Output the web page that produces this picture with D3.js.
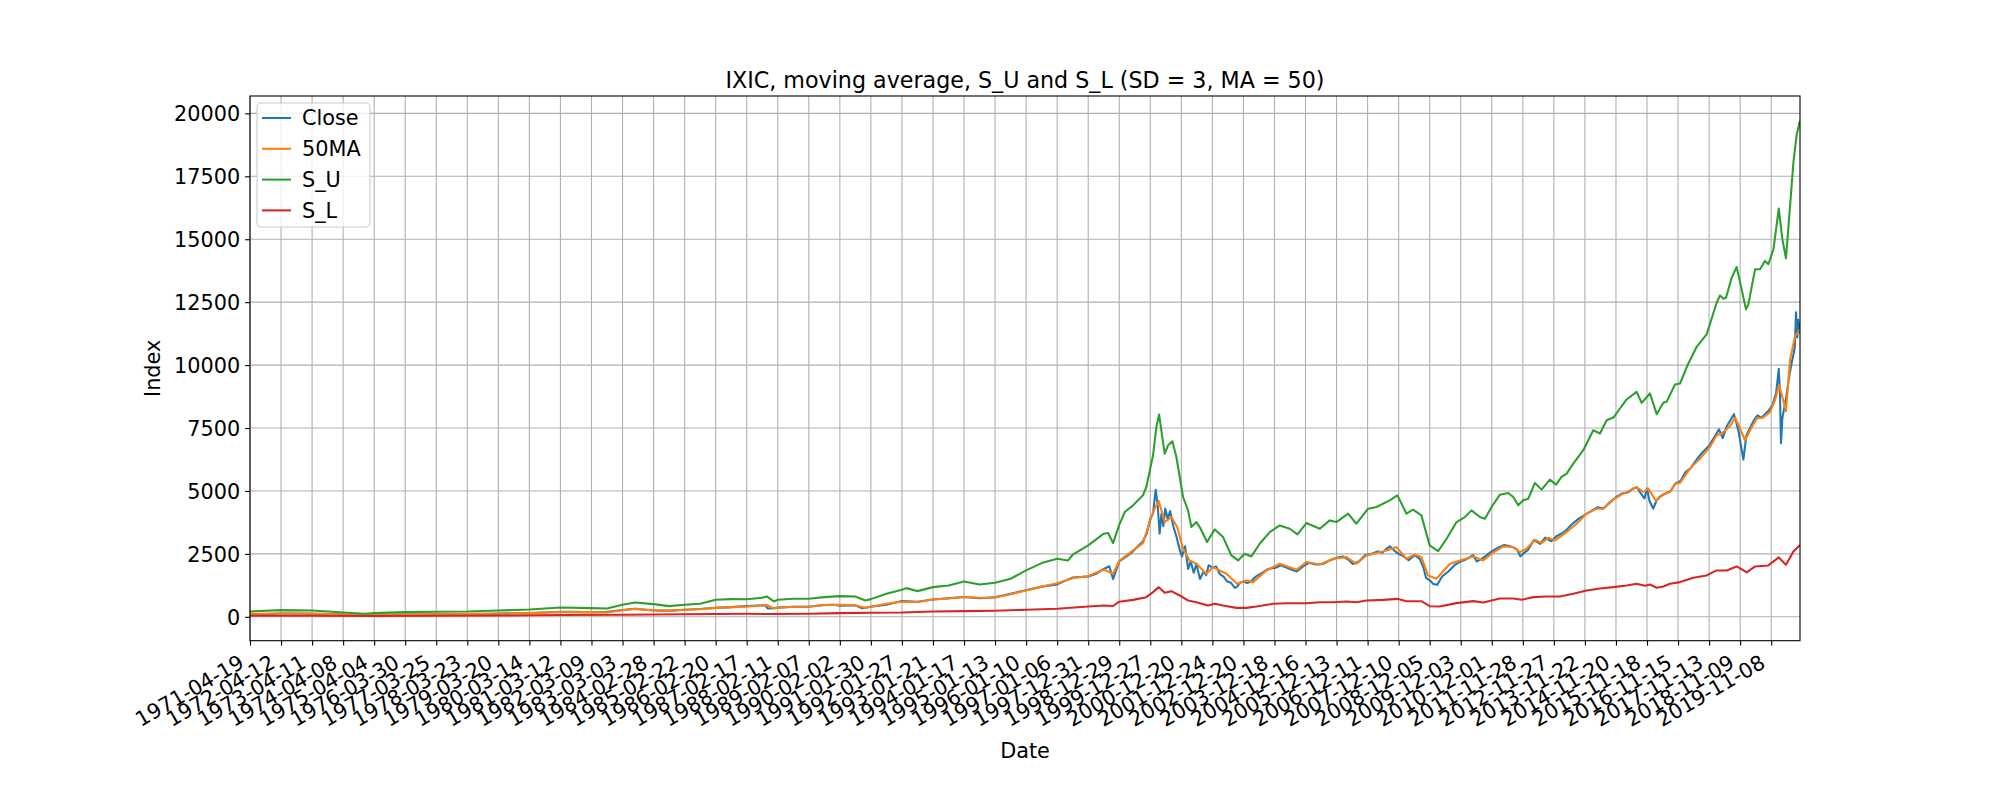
<!DOCTYPE html>
<html>
<head>
<meta charset="utf-8">
<script src="https://cdn.jsdelivr.net/npm/d3@7"></script>
<style>
body { margin: 0; background: #fff; }
svg { font-family: "DejaVu Sans", sans-serif; }
</style>
</head>
<body>
<svg width="2000" height="800"></svg>
<script>
// x axis is the row number of the data, one tick label every 250 rows
const tickDates = ["1971-04-19","1972-04-12","1973-04-11","1974-04-08","1975-04-04","1976-03-30",
  "1977-03-25","1978-03-23","1979-03-20","1980-03-14","1981-03-12","1982-03-09","1983-03-03",
  "1984-02-28","1985-02-22","1986-02-20","1987-02-17","1988-02-11","1989-02-07","1990-02-02",
  "1991-01-30","1992-01-27","1993-01-21","1994-01-17","1995-01-13","1996-01-10","1997-01-06",
  "1997-12-31","1998-12-29","1999-12-27","2000-12-20","2001-12-24","2002-12-20","2003-12-18",
  "2004-12-16","2005-12-13","2006-12-11","2007-12-10","2008-12-05","2009-12-03","2010-12-01",
  "2011-11-28","2012-11-27","2013-11-22","2014-11-20","2015-11-18","2016-11-15","2017-11-13",
  "2018-11-09","2019-11-08"];
const rowStep = 250;
const lastRow = 12482;
const yTicks = [0, 2500, 5000, 7500, 10000, 12500, 15000, 17500, 20000];

// [row, value]
const closePts = [[0,104],[125,110],[250,130],[375,133],[500,122],[625,108],[750,92],[875,65],[1000,82],
  [1125,76],[1250,90],[1375,92],[1500,97],[1625,100],[1750,108],[1875,118],[2000,127],[2125,140],
  [2250,150],[2375,175],[2500,200],[2625,195],[2750,180],[2875,200],[3000,270],[3100,320],[3200,270],
  [3300,245],[3400,245],[3500,282],[3625,310],[3750,355],[3875,385],[4000,425],[4100,450],[4150,455],
  [4170,330],[4220,340],[4250,365],[4375,400],[4500,400],[4625,470],[4700,480],[4750,440],[4875,455],
  [4930,340],[5000,400],[5125,480],[5250,625],[5375,600],[5500,690],[5625,740],[5750,790],[5875,740],
  [6000,775],[6125,920],[6250,1060],[6375,1200],[6500,1290],[6625,1560],[6750,1600],[6810,1700],
  [6875,1900],[6920,2010],[6950,1500],[7000,2200],[7060,2400],[7111,2600],[7150,2800],[7191,3000],
  [7220,3300],[7250,3900],[7272,4100],[7285,4700],[7294,5048],[7310,4400],[7325,3300],[7340,4100],
  [7355,3600],[7370,4300],[7390,3900],[7410,4200],[7435,3600],[7460,3200],[7485,2700],[7505,2400],
  [7530,2800],[7555,1900],[7575,2200],[7600,1750],[7621,2100],[7650,1500],[7680,1800],[7700,1650],
  [7720,2050],[7750,1950],[7780,2000],[7810,1700],[7840,1600],[7870,1400],[7900,1350],[7930,1150],
  [7950,1200],[7970,1350],[8000,1400],[8030,1340],[8060,1400],[8100,1600],[8150,1750],[8200,1900],
  [8260,1950],[8300,2050],[8350,1950],[8400,1850],[8430,1800],[8480,2000],[8530,2150],[8580,2080],
  [8640,2100],[8700,2250],[8750,2350],[8800,2400],[8850,2250],[8880,2100],[8930,2200],[8980,2450],
  [9030,2500],[9080,2600],[9120,2550],[9150,2700],[9180,2800],[9210,2650],[9250,2500],[9290,2400],
  [9330,2250],[9380,2450],[9420,2300],[9450,1950],[9470,1550],[9500,1450],[9530,1300],[9560,1270],
  [9600,1600],[9650,1800],[9700,2050],[9750,2200],[9800,2300],[9850,2450],[9880,2200],[9920,2300],
  [9960,2450],[10000,2600],[10050,2750],[10100,2850],[10150,2800],[10200,2700],[10230,2400],
  [10250,2500],[10290,2650],[10340,3050],[10390,2900],[10430,3150],[10480,3000],[10520,3200],
  [10560,3300],[10600,3450],[10650,3700],[10700,3900],[10750,4050],[10800,4200],[10850,4350],
  [10900,4300],[10950,4550],[11000,4750],[11050,4900],[11100,4950],[11140,5100],[11170,5150],
  [11200,4900],[11230,4700],[11250,5100],[11270,4600],[11300,4300],[11330,4650],[11360,4800],
  [11400,4900],[11440,5000],[11480,5300],[11520,5400],[11560,5750],[11600,5900],[11650,6250],
  [11700,6550],[11750,6800],[11800,7200],[11830,7450],[11860,7100],[11890,7550],[11920,7800],
  [11950,8050],[11970,7700],[11990,7300],[12010,6700],[12026,6250],[12050,7200],[12080,7500],
  [12110,7800],[12140,8000],[12170,7900],[12200,8050],[12230,8200],[12260,8400],[12290,8900],
  [12311,9850],[12320,9000],[12329,6900],[12340,7900],[12355,8300],[12370,8700],[12400,9700],
  [12420,10200],[12440,10700],[12450,12100],[12460,11100],[12468,11800],[12475,11300],[12482,11700]];

const maPts = [[0,120],[250,130],[500,128],[750,92],[875,70],[1000,75],[1250,90],[1500,100],[1750,106],
  [2000,122],[2250,148],[2500,192],[2750,188],[2875,175],[3000,260],[3100,315],[3250,255],[3375,245],
  [3500,280],[3625,300],[3750,355],[3875,385],[4000,410],[4125,451],[4161,470],[4218,330],[4250,360],
  [4375,400],[4500,410],[4625,470],[4750,480],[4875,460],[4955,360],[5000,400],[5125,520],[5250,600],
  [5375,590],[5500,690],[5625,730],[5750,790],[5875,760],[6000,770],[6125,900],[6250,1050],[6375,1200],
  [6500,1330],[6625,1530],[6750,1620],[6875,1880],[6950,1710],[7000,2220],[7111,2638],[7191,2930],
  [7272,4163],[7318,4601],[7366,3765],[7420,3964],[7466,3566],[7514,2704],[7567,2240],[7621,2107],
  [7702,1710],[7755,1975],[7863,1710],[7949,1312],[8024,1445],[8078,1378],[8185,1842],[8292,2107],
  [8427,1869],[8507,2174],[8615,2081],[8722,2306],[8830,2372],[8910,2107],[8991,2439],[9071,2531],
  [9152,2638],[9232,2770],[9313,2306],[9380,2479],[9433,2372],[9487,1643],[9554,1511],[9663,2108],
  [9743,2241],[9851,2400],[9931,2241],[9998,2506],[10092,2798],[10173,2771],[10227,2572],[10280,2705],
  [10347,3063],[10401,2930],[10455,3142],[10509,3036],[10603,3368],[10683,3699],[10764,4097],
  [10844,4296],[10898,4296],[10979,4654],[11046,4866],[11113,5025],[11166,5158],[11220,4959],
  [11260,5092],[11322,4601],[11381,4866],[11435,4959],[11475,5290],[11516,5317],[11596,5887],
  [11677,6285],[11757,6750],[11811,7214],[11851,7281],[11918,7572],[11959,7917],[11999,7479],
  [12039,7015],[12080,7413],[12133,7878],[12187,7917],[12241,8143],[12281,8607],[12313,9200],
  [12340,8740],[12369,8168],[12402,10223],[12442,11151],[12482,11420]];

const suPts = [[0,212],[250,265],[500,252],[750,172],[925,120],[1000,146],[1250,186],[1500,200],
  [1750,212],[2000,252],[2250,292],[2500,371],[2750,345],[2875,332],[3000,477],[3100,570],[3250,504],
  [3375,424],[3500,477],[3625,517],[3750,676],[3875,703],[4000,700],[4125,756],[4161,809],[4218,610],
  [4250,676],[4375,716],[4500,716],[4625,782],[4750,822],[4875,809],[4955,650],[5000,703],[5125,915],
  [5250,1074],[5285,1140],[5375,1021],[5500,1180],[5625,1247],[5750,1406],[5875,1286],[6000,1353],
  [6125,1512],[6250,1843],[6375,2135],[6500,2308],[6588,2241],[6625,2467],[6750,2838],[6875,3302],
  [6910,3329],[6950,2930],[7000,3650],[7044,4163],[7111,4428],[7191,4826],[7218,5157],[7272,6417],
  [7299,7545],[7321,8035],[7339,7411],[7366,6483],[7393,6815],[7428,6975],[7460,6351],[7487,5555],
  [7514,4760],[7554,4230],[7581,3566],[7621,3765],[7648,3566],[7707,2970],[7769,3473],[7836,3168],
  [7903,2438],[7957,2240],[8010,2505],[8064,2400],[8131,2903],[8212,3367],[8292,3632],[8373,3499],
  [8435,3274],[8507,3725],[8615,3499],[8695,3830],[8749,3765],[8843,4097],[8910,3698],[9004,4296],
  [9071,4362],[9178,4627],[9240,4826],[9313,4097],[9366,4256],[9433,4031],[9500,2837],[9568,2612],
  [9636,3102],[9716,3765],[9783,3964],[9837,4229],[9904,3964],[9945,3898],[9998,4362],[10065,4853],
  [10133,4920],[10173,4761],[10213,4429],[10253,4628],[10294,4695],[10347,5318],[10401,5053],
  [10468,5451],[10517,5252],[10562,5557],[10603,5690],[10656,6087],[10737,6618],[10817,7413],
  [10871,7281],[10925,7811],[10979,7917],[11032,8276],[11086,8634],[11166,8939],[11207,8501],
  [11274,8873],[11328,8050],[11381,8501],[11408,8541],[11475,9229],[11516,9269],[11583,10065],
  [11650,10728],[11730,11218],[11811,12478],[11838,12770],[11865,12638],[11886,12678],[11932,13474],
  [11972,13898],[12012,13009],[12047,12213],[12066,12412],[12120,13805],[12160,13805],[12200,14137],
  [12227,14005],[12268,14602],[12311,16220],[12340,15000],[12369,14244],[12402,16325],[12429,18049],
  [12456,19176],[12482,19707]];

const slPts = [[0,40],[500,45],[1000,35],[1500,40],[2000,50],[2500,70],[3000,85],[3250,95],[3500,100],
  [4000,120],[4200,110],[4500,120],[4750,146],[5000,160],[5250,172],[5500,212],[5750,225],[6000,239],
  [6250,279],[6500,318],[6750,411],[6875,451],[6950,430],[7000,600],[7111,674],[7218,780],[7272,980],
  [7318,1179],[7366,954],[7420,1020],[7487,848],[7554,648],[7621,581],[7715,449],[7769,516],[7836,449],
  [7943,356],[8024,356],[8104,409],[8239,516],[8346,542],[8507,542],[8615,581],[8722,581],[8830,608],
  [8910,581],[8991,648],[9125,674],[9240,714],[9313,621],[9433,621],[9500,422],[9581,409],[9716,544],
  [9851,623],[9931,570],[10065,729],[10173,729],[10240,676],[10334,782],[10441,809],[10549,809],
  [10656,915],[10764,1047],[10871,1127],[10979,1180],[11086,1246],[11166,1313],[11234,1233],
  [11274,1286],[11328,1153],[11381,1206],[11435,1313],[11516,1379],[11623,1551],[11730,1644],
  [11811,1843],[11892,1843],[11972,2002],[12053,1763],[12120,2002],[12227,2042],[12311,2359],
  [12369,2067],[12429,2597],[12482,2850]];

const seriesNames = ["Close", "50MA", "S_U", "S_L"];
const seriesData = [closePts, maPts, suPts, slPts];
const colors = ["#1f77b4", "#ff7f0e", "#2ca02c", "#d62728"];

const svg = d3.select("svg"),
    width = +svg.attr("width"),
    height = +svg.attr("height");

svg.append("rect").attr("width", width).attr("height", height).attr("fill", "#fff");

// plot box (matplotlib subplot params, bottom raised for the rotated dates)
const box = {left: 250, right: 1800, top: 96, bottom: 640.7};
const fs = 20.8;

const x = d3.scaleLinear().domain([0, lastRow]).range([box.left, box.right]);

// y limits like matplotlib: data range plus 5% each side
const allVals = seriesData.flat().map(d => d[1]);
const lo = d3.min(allVals), hi = d3.max(allVals), pad = (hi - lo) * 0.05;
const y = d3.scaleLinear().domain([lo - pad, hi + pad]).range([box.bottom, box.top]);

const tickRows = tickDates.map((d, i) => i * rowStep);

// grid
const grid = svg.append("g").attr("stroke", "#b0b0b0").attr("stroke-width", 1.1);
grid.selectAll("line.v").data(tickRows).join("line").attr("class", "v")
    .attr("x1", d => x(d)).attr("x2", d => x(d)).attr("y1", box.top).attr("y2", box.bottom);
grid.selectAll("line.h").data(yTicks).join("line").attr("class", "h")
    .attr("x1", box.left).attr("x2", box.right).attr("y1", d => y(d)).attr("y2", d => y(d));

// lines
svg.append("clipPath").attr("id", "clip").append("rect")
    .attr("x", box.left).attr("y", box.top)
    .attr("width", box.right - box.left).attr("height", box.bottom - box.top);

const line = d3.line().x(d => x(d[0])).y(d => y(d[1]));
svg.append("g").attr("clip-path", "url(#clip)")
    .selectAll("path").data(seriesData).join("path")
    .attr("d", line)
    .attr("fill", "none")
    .attr("stroke", (d, i) => colors[i])
    .attr("stroke-width", 2.08)
    .attr("stroke-linejoin", "round");

// axes
const xAxis = svg.append("g").attr("transform", `translate(0,${box.bottom})`)
    .call(d3.axisBottom(x).tickValues(tickRows).tickFormat((d, i) => tickDates[i])
        .tickSize(4.9).tickSizeOuter(0));
xAxis.selectAll("text")
    .attr("y", null).attr("dy", null)
    .attr("text-anchor", "end")
    .attr("transform", "translate(-5,26) rotate(-30)");

const yAxis = svg.append("g").attr("transform", `translate(${box.left},0)`)
    .call(d3.axisLeft(y).tickValues(yTicks).tickFormat(d3.format("d"))
        .tickSize(4.9).tickPadding(4.9).tickSizeOuter(0));
yAxis.selectAll("text").attr("dy", "0.35em");

[xAxis, yAxis].forEach(a => {
    a.select(".domain").remove();
    a.selectAll("line").attr("stroke", "#000").attr("stroke-width", 1.1);
    a.selectAll("text").attr("font-size", fs).attr("fill", "#000")
        .attr("font-family", '"DejaVu Sans", sans-serif');
});

// spines
svg.append("rect")
    .attr("x", box.left).attr("y", box.top)
    .attr("width", box.right - box.left).attr("height", box.bottom - box.top)
    .attr("fill", "none").attr("stroke", "#000").attr("stroke-width", 1.1);

// title and axis labels
const midX = (box.left + box.right) / 2;
svg.append("text").attr("x", midX).attr("y", 87.7)
    .attr("text-anchor", "middle").attr("font-size", 22.2)
    .text("IXIC, moving average, S_U and S_L (SD = 3, MA = 50)");
svg.append("text").attr("x", midX).attr("y", 758)
    .attr("text-anchor", "middle").attr("font-size", fs).text("Date");
svg.append("text").attr("transform", `translate(160,${(box.top + box.bottom) / 2}) rotate(-90)`)
    .attr("text-anchor", "middle").attr("font-size", fs).text("Index");

// legend
const legend = svg.append("g");
legend.append("rect")
    .attr("x", 257).attr("y", 103).attr("width", 113).attr("height", 124).attr("rx", 4)
    .attr("fill", "#fff").attr("fill-opacity", 0.8)
    .attr("stroke", "#cccccc").attr("stroke-width", 1.1);
const item = legend.selectAll("g.item").data(seriesNames).join("g").attr("class", "item")
    .attr("transform", (d, i) => `translate(0,${118 + i * 30.8})`);
item.append("line").attr("x1", 262).attr("x2", 291)
    .attr("stroke", (d, i) => colors[i]).attr("stroke-width", 2.08);
item.append("text").attr("x", 302).attr("dy", "0.35em").attr("font-size", fs).text(d => d);
</script>
</body>
</html>
